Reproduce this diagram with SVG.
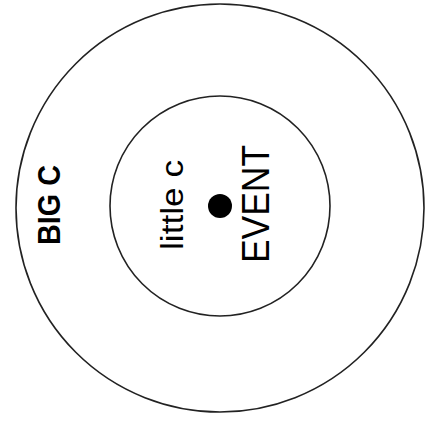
<svg xmlns="http://www.w3.org/2000/svg" width="425" height="424" viewBox="0 0 425 424">
<style>
.ring{fill:none;stroke:#222;stroke-width:1.6}
.lbl{font-family:"Liberation Sans","Open Sans",Arial,sans-serif;fill:#000;text-anchor:middle}
</style>
<rect width="425" height="424" fill="#fff"/>
<g id="big-c">
<circle class="ring" cx="220" cy="208" r="204"/>
<text class="lbl" transform="translate(60,205) rotate(-90)" font-size="31" font-weight="bold" textLength="80" lengthAdjust="spacingAndGlyphs">BIG C</text>
</g>
<g id="little-c">
<circle class="ring" cx="220" cy="206" r="110"/>
<text class="lbl" transform="translate(183,205) rotate(-90)" font-size="31" textLength="90" lengthAdjust="spacingAndGlyphs">little c</text>
</g>
<g id="event">
<circle cx="220" cy="206" r="12" fill="#000"/>
<text class="lbl" transform="translate(269,204) rotate(-90)" font-size="39" textLength="118" lengthAdjust="spacingAndGlyphs">EVENT</text>
</g>
<g id="connectors"/>
</svg>
